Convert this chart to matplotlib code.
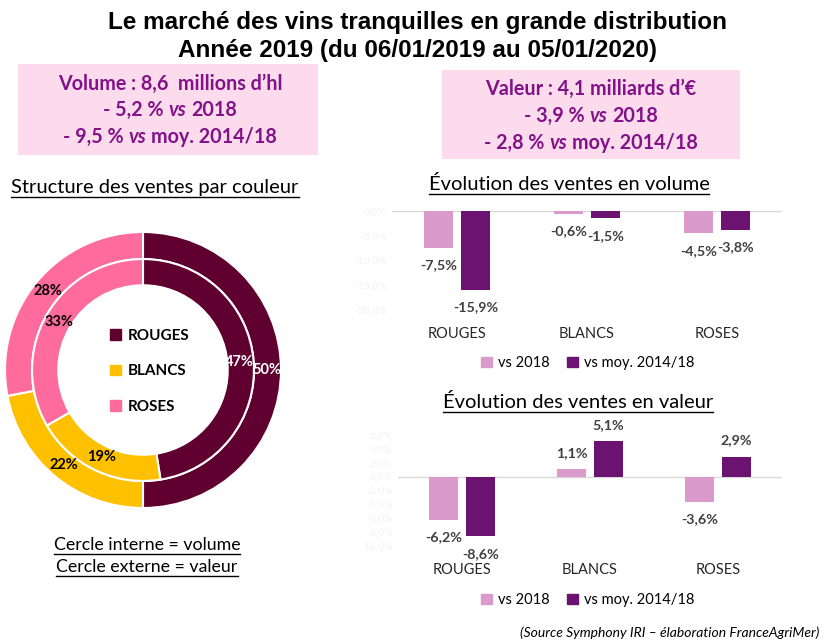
import numpy as np
import matplotlib
matplotlib.use('Agg')
import matplotlib.pyplot as plt
from matplotlib.patches import Rectangle, Patch
from matplotlib.lines import Line2D

# data
couleurs = ['ROUGES', 'BLANCS', 'ROSES']
part_volume = [47, 19, 33]      # cercle interne
part_valeur = [50, 22, 28]      # cercle externe
vol_vs_2018 = [-7.5, -0.6, -4.5]
vol_vs_moy = [-15.9, -1.5, -3.8]
val_vs_2018 = [-6.2, 1.1, -3.6]
val_vs_moy = [-8.6, 5.1, 2.9]
series_names = ['vs 2018', 'vs moy. 2014/18']
vol_ticks = [0, -5, -10, -15, -20]
val_ticks = [6, 4, 2, 0, -2, -4, -6, -8, -10]

col_donut = ['#600030', '#FFC000', '#FF6B9C']
col_bars = ['#DA9ACC', '#6C1270']
txt_purple = '#82118A'
body = 'Lato'

W, H = 826, 640
fig = plt.figure(figsize=(W / 100, H / 100), dpi=100)
r = fig.canvas.get_renderer()


def rect(x0, y0, x1, y1):
    return [x0 / W, 1 - y1 / H, (x1 - x0) / W, (y1 - y0) / H]


def fx(x):
    return x / W


def fy(y):
    return 1 - y / H


def rich_line(xc, y, parts, **kw):
    # parts: list of (text, style) drawn one after another, centred on xc
    gap_t = fig.text(0, 0, 'x x', **kw)
    nogap_t = fig.text(0, 0, 'xx', **kw)
    gap = gap_t.get_window_extent(r).width - nogap_t.get_window_extent(r).width
    gap_t.remove()
    nogap_t.remove()
    texts = [fig.text(0, fy(y), s, style=st, va='center', ha='left', **kw) for s, st in parts]
    widths = [t.get_window_extent(r).width for t in texts]
    total = sum(widths) + gap * (len(texts) - 1)
    x = xc - total / 2
    for t, w in zip(texts, widths):
        t.set_x(fx(x))
        x += w + gap


def underlined(xc, y, s, **kw):
    t = fig.text(fx(xc), fy(y), s, ha='center', va='center', **kw)
    bb = t.get_window_extent(r)
    yl = bb.y0 - 1
    fig.add_artist(Line2D([bb.x0 / W, bb.x1 / W], [yl / H, yl / H], color='black', lw=1.0))


# title
fig.text(fx(417), fy(23), 'Le marché des vins tranquilles en grande distribution',
         ha='center', va='center', fontsize=17.5, fontweight='bold', family='Liberation Sans')
fig.text(fx(417), fy(51), 'Année 2019 (du 06/01/2019 au 05/01/2020)',
         ha='center', va='center', fontsize=17.5, fontweight='bold', family='Liberation Sans')

# pink boxes
fig.add_artist(Rectangle((fx(18), fy(155)), (318 - 18) / W, (155 - 64) / H,
                         transform=fig.transFigure, color='#FCDCEC', lw=0))
fig.add_artist(Rectangle((fx(442), fy(159)), (740 - 442) / W, (159 - 70) / H,
                         transform=fig.transFigure, color='#FCDCEC', lw=0))
kw = dict(fontsize=14.2, fontweight='bold', color=txt_purple, family=body)
rich_line(170, 84, [('Volume : 8,6  millions d\u2019hl', 'normal')], **kw)
rich_line(170, 110, [('- 5,2 %', 'normal'), ('vs', 'italic'), ('2018', 'normal')], **kw)
rich_line(170, 137, [('- 9,5 %', 'normal'), ('vs', 'italic'), ('moy. 2014/18', 'normal')], **kw)
rich_line(591, 89, [('Valeur : 4,1 milliards d\u2019\u20ac', 'normal')], **kw)
rich_line(591, 116, [('- 3,9 %', 'normal'), ('vs', 'italic'), ('2018', 'normal')], **kw)
rich_line(591, 143, [('- 2,8 %', 'normal'), ('vs', 'italic'), ('moy. 2014/18', 'normal')], **kw)

# donut
underlined(155, 187, 'Structure des ventes par couleur', fontsize=14.5, family=body)
ax = fig.add_axes(rect(5, 232, 281, 508))
R_out, w_out = 1.0, 0.196
R_in, w_in = 0.804, 0.19
wout, _ = ax.pie(part_valeur, radius=R_out, startangle=90, counterclock=False, colors=col_donut,
                 wedgeprops=dict(width=w_out, edgecolor='white', linewidth=1.5))
win, _ = ax.pie(part_volume, radius=R_in, startangle=90, counterclock=False, colors=col_donut,
                wedgeprops=dict(width=w_in, edgecolor='white', linewidth=1.5))
for wedges, vals, rr in [(wout, part_valeur, R_out - w_out / 2 - 0.005), (win, part_volume, R_in - w_in / 2 - 0.01)]:
    for wd, v, c in zip(wedges, vals, ['white', 'black', 'black']):
        a = np.deg2rad((wd.theta1 + wd.theta2) / 2)
        ax.text(rr * np.cos(a), rr * np.sin(a), f'{v}%', ha='center', va='center',
                fontsize=10.5, fontweight='bold', color=c, family=body)
ax.set_xlim(-1, 1)
ax.set_ylim(-1, 1)
ax.set_aspect('equal')
ax.legend(handles=[Patch(color=c) for c in col_donut], labels=couleurs, loc='center',
          bbox_to_anchor=(0.525, 0.495), frameon=False, handlelength=0.7, handleheight=0.7,
          labelspacing=1.4, handletextpad=0.45,
          prop=dict(family=body, weight='bold', size=11))

underlined(147, 545, 'Cercle interne = volume', fontsize=12.8, family=body)
underlined(147, 567, 'Cercle externe = valeur', fontsize=12.8, family=body)


def bar_chart(box, data1, data2, ticks, ylim, title, title_x, title_y, leg_y, wbar):
    ax = fig.add_axes(rect(*box))
    x = np.arange(len(couleurs))
    off = 0.143
    for xs, vals, c in [(x - off, data1, col_bars[0]), (x + off, data2, col_bars[1])]:
        bars = ax.bar(xs, vals, width=wbar, color=c, zorder=2)
        for b, v in zip(bars, vals):
            ax.annotate(f'{v:.1f}%'.replace('.', ','), (b.get_x() + b.get_width() / 2, v),
                        xytext=(0, 11.5 if v > 0 else -12.5), textcoords='offset points',
                        ha='center', va='center', fontsize=10.3, fontweight='bold',
                        color='#404040', family=body, annotation_clip=False)
    ax.axhline(0, color='#D9D9D9', lw=1, zorder=1)
    ax.set_xlim(-0.5, 2.5)
    ax.set_ylim(*ylim)
    ax.set_xticks(x)
    ax.set_xticklabels(couleurs, fontsize=10.5, family=body, color='#262626')
    ax.set_yticks(ticks)
    ax.set_yticklabels([f'{t:.1f}%'.replace('.', ',') for t in ticks], fontsize=7.5,
                       color='#F2F2F2', family=body)
    ax.tick_params(axis='x', length=0, pad=12.5)
    ax.tick_params(axis='y', length=0, pad=4)
    for s in ax.spines.values():
        s.set_visible(False)
    ax.patch.set_alpha(0)
    handles = [Patch(color=c) for c in col_bars]
    fig.legend(handles=handles, labels=series_names, loc='center',
               bbox_to_anchor=(fx(588), fy(leg_y)), ncol=2, frameon=False,
               handlelength=0.75, handleheight=0.75, handletextpad=0.4, columnspacing=1.2,
               prop=dict(family=body, size=10.5))
    underlined(title_x, title_y, title, fontsize=14.5, family=body)
    return ax


bar_chart((392, 211, 782, 310), vol_vs_2018, vol_vs_moy, vol_ticks, (-20, 0),
          'Évolution des ventes en volume', 569, 184, 363, 0.22)
bar_chart((398, 435, 782, 546), val_vs_2018, val_vs_moy, val_ticks, (-10, 6),
          'Évolution des ventes en valeur', 578, 402, 600, 0.225)

fig.text(fx(520), fy(633), '(Source Symphony IRI \u2013 élaboration FranceAgriMer)',
         ha='left', va='center', fontsize=10, style='italic', family=body)

fig.savefig('out.png', dpi=100)
